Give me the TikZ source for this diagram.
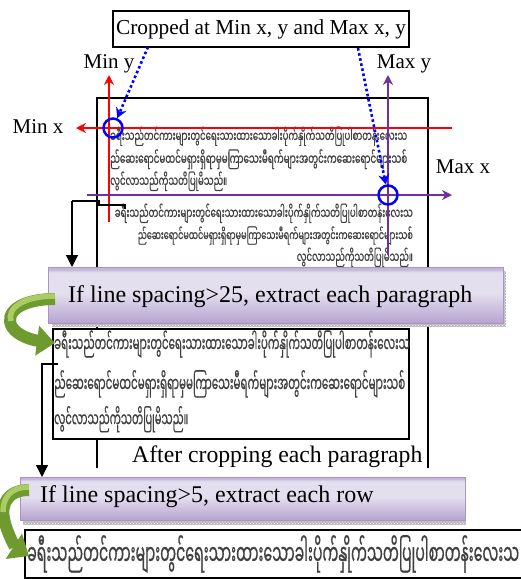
\documentclass[tikz,border=0pt]{standalone}
\usepackage{fontspec}
\setmainfont{Liberation Serif}
\newfontfamily\mmfont[Script=Myanmar,FakeBold=0.8]{Noto Sans Myanmar UI}
\usetikzlibrary{arrows.meta,patterns}

\definecolor{redline}{HTML}{FF0000}
\definecolor{purpleline}{HTML}{7030A0}
\definecolor{bluemark}{HTML}{0000FF}
\definecolor{boxtop}{HTML}{C4B6DA}
\definecolor{boxmid}{HTML}{E4DFEE}
\definecolor{boxbot}{HTML}{B6A4D0}
\definecolor{boxedge}{HTML}{A895C6}
\definecolor{greendark}{HTML}{6F9A30}
\definecolor{greenlight}{HTML}{A9CD62}
\definecolor{mmgray}{HTML}{404040}

% lavender gradient of the step boxes (path spans 25bp..75bp)
\pgfdeclareverticalshading{stepshade}{100bp}{%
  color(0bp)=(boxbot); color(25bp)=(boxbot); color(52bp)=(boxmid);
  color(70bp)=(boxmid); color(73bp)=(boxtop); color(100bp)=(boxtop)}

\newcommand{\mmA}{ခရီးသည်တင်ကားများတွင်ရေးသားထားသောခါးပိုက်နှိုက်သတိပြုပါစာတန်းလေးသ}
\newcommand{\mmB}{ည်ဆေးရောင်မထင်မရှားရှိရာမှမကြာသေးမီရက်များအတွင်းကဆေးရောင်များသစ်}
\newcommand{\mmC}{လွင်လာသည်ကိုသတိပြုမိသည်။}
% a Myanmar line set to a given width, drawn taller than the font's own shape
\newcommand{\mmrow}[3][2.0]{\scalebox{1}[#1]{\resizebox{#2}{!}{\mmfont #3}}}

\tikzset{
  label/.style={inner sep=0pt, font=\fontsize{21}{24}\selectfont},
  steptext/.style={inner sep=0pt, font=\fontsize{24}{28}\selectfont},
  mmline/.style={inner sep=0pt, text=mmgray},
  stepbox/.style={draw=boxedge, line width=0.8pt, shading=stepshade},
  stepshadow/.style={fill=gray!55, postaction={pattern=crosshatch dots, pattern color=white}},
  redarrow/.style={redline, line width=1.5pt, -{Stealth[length=10pt,width=10pt]}},
  purplearrow/.style={purpleline, line width=1.5pt, -{Stealth[length=10pt,width=10pt]}},
  bluepointer/.style={bluemark, line width=2.6pt, dash pattern=on 2.6pt off 2.6pt,
    -{Stealth[length=10pt,width=11pt]}},
  bluering/.style={circle, draw=bluemark, line width=2.5pt, minimum size=19pt, inner sep=0pt},
  flow/.style={black, line width=1.3pt, -{Triangle[length=12pt,width=12pt]}},
  framebox/.style={draw=black, line width=1.4pt, fill=white},
  greenturn/.style={greendark, line width=12pt, -{Triangle[length=18pt,width=29pt]}},
  greenshine/.style={greenlight, line width=5.5pt, line cap=butt},
}

\begin{document}
\begin{tikzpicture}[x=1pt,y=-1pt]
\clip (0,0) rectangle (521,579);
\fill[white] (0,0) rectangle (521,579);

% page outline
\draw[line width=1.3pt] (97,468) -- (97,98) -- (428,98) -- (428,468);

% original page text (justified)
\node[mmline, anchor=base west] (a1) at (110,142) {\mmrow[1.7]{297pt}{\mmA}};
\node[mmline, anchor=base west] (a2) at (110,165) {\mmrow[1.7]{297pt}{\mmB}};
\node[mmline, anchor=base west] (a3) at (110,187) {\mmrow[1.7]{117pt}{\mmC}};

% same text, right aligned
\node[mmline, anchor=base east] (b1) at (413,219) {\mmrow[1.7]{298pt}{\mmA}};
\node[mmline, anchor=base east] (b2) at (413,241) {\mmrow[1.7]{275pt}{\mmB}};
\node[mmline, anchor=base east] (b3) at (413,263) {\mmrow[1.7]{116pt}{\mmC}};

% bounding lines
\coordinate (rvb) at (109,222); \coordinate (rvt) at (109,75);
\coordinate (rhr) at (452,128); \coordinate (rhl) at (76,128);
\coordinate (pvb) at (388,255); \coordinate (pvt) at (388,75);
\coordinate (phl) at (87,195);  \coordinate (phr) at (452,195);
\draw[redarrow] (rvb) -- (rvt);
\draw[redarrow] (rhr) -- (rhl);
\draw[purplearrow] (pvb) -- (pvt);
\draw[purplearrow] (phl) -- (phr);

\node[label, anchor=base] (miny) at (109,68) {Min y};
\node[label, anchor=base] (maxy) at (404,68) {Max y};
\node[label, anchor=base] (minx) at (38,133) {Min x};
\node[label, anchor=base] (maxx) at (463,173) {Max x};

% corner marks
\node[bluering] (c1) at (113,128) {};
\node[bluering] (c2) at (388,195) {};

\node[draw, line width=1.3pt, minimum width=296pt, minimum height=36pt, inner sep=0pt,
      font=\fontsize{21.3}{24}\selectfont] (top) at (261,29) {Cropped at Min x, y and Max x, y};
\coordinate (d1) at (148,47);
\coordinate (d2) at (358,48);
\draw[bluepointer] (d1) -- (c1);
\draw[bluepointer] (d2) -- (c2);

% step 1
\coordinate (k1) at (125,209);
\coordinate (s1) at (72,201);
\draw[line width=1.3pt] (k1) -- (125,205) -- (99,205) -- (99,201) -- (s1);
\fill[stepshadow] (52,271) rectangle (506,327);
\path[stepbox] (48,267) rectangle (503,323);
\coordinate (box1n) at (72,267);
\draw[flow] (s1) -- (box1n);
\node[steptext, anchor=base west] (t1) at (68,302) {If line spacing>25, extract each paragraph};

% cropped paragraph
\path[framebox] (53,329) rectangle (409,439);
\node[mmline, anchor=base west] (p1) at (54,352) {\mmrow{356pt}{\mmA}};
\node[mmline, anchor=base west] (p2) at (54,392) {\mmrow{351pt}{\mmB}};
\node[mmline, anchor=base west] (p3) at (54,427) {\mmrow{134pt}{\mmC}};

\draw[greenturn] (55,299) .. controls (20,299) and (4,313) .. (12,327)
                 .. controls (18,336) and (32,340) .. (55,343);
\draw[greenshine] (55,296) .. controls (22,296) and (7,309) .. (11,321);

% step 2
\coordinate (s2) at (58,364);
\coordinate (box2n) at (42,477);
\draw[flow] (s2) -- (42,364) -- (box2n);
\node[steptext, font=\fontsize{23.7}{28}\selectfont, anchor=base west] (after) at (132,462)
  {After cropping each paragraph};
\fill[stepshadow] (23,481) rectangle (466,525);
\path[stepbox] (20,477) rectangle (465,520);
\node[steptext, anchor=base west] (t2) at (40,502) {If line spacing>5, extract each row};

% extracted row
\path[framebox] (25,530) rectangle (540,578);
\node[mmline, anchor=base west] (r1) at (27,565) {\mmrow{492pt}{\mmA}};

\draw[greenturn] (29,490) .. controls (7,490) and (1,505) .. (4,519)
                 .. controls (7,533) and (15,547) .. (29,556);
\draw[greenshine] (29,487) .. controls (9,487) and (3,499) .. (3,512);
\end{tikzpicture}
\end{document}
